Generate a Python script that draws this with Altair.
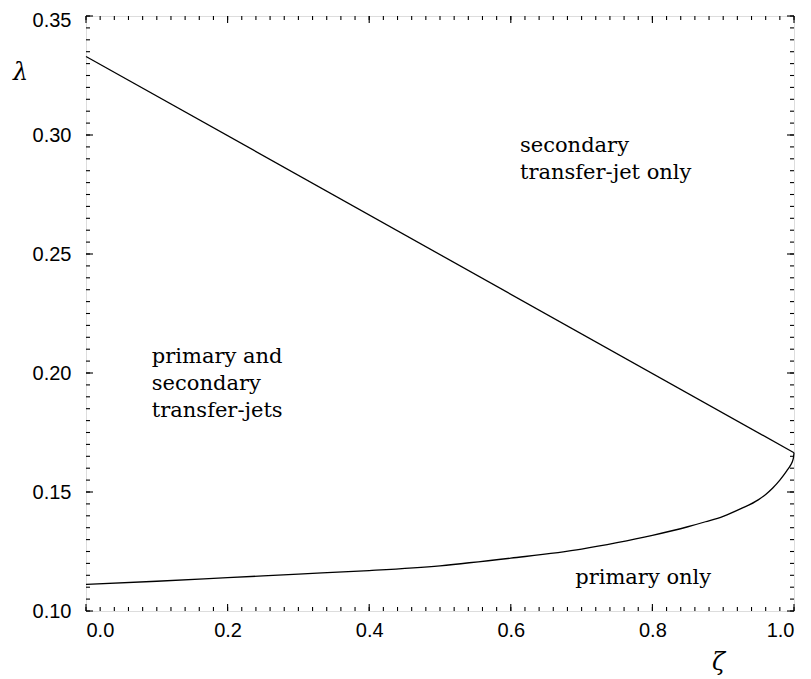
import altair as alt
import pandas as pd

# ---- data ----
upper_zeta = [0.0, 1.0]
upper_lam = [0.333, 0.1665]

lower_zeta = [0.0, 0.1, 0.2, 0.3, 0.4, 0.5, 0.6, 0.7, 0.75, 0.8, 0.85, 0.875, 0.9, 0.925, 0.95, 0.96, 0.97, 0.98, 0.99, 0.995, 0.999, 1.0]
lower_lam = [0.1112, 0.1125, 0.1140, 0.1155, 0.1170, 0.1190, 0.1222, 0.1260, 0.1287, 0.1318, 0.1354, 0.1375, 0.1398, 0.1430, 0.1468, 0.1490, 0.1517, 0.1550, 0.1590, 0.1612, 0.1640, 0.1665]

label_text = ["secondary", "transfer-jet only", "primary and", "secondary", "transfer-jets", "primary only"]
label_zeta = [0.613, 0.613, 0.093, 0.093, 0.093, 0.691]
label_lam = [0.2953, 0.2841, 0.2068, 0.1952, 0.1839, 0.1138]

x_major = [0.0, 0.2, 0.4, 0.6, 0.8, 1.0]
x_minor = [round(i * 0.02, 2) for i in range(51)]
y_major = [0.10, 0.15, 0.20, 0.25, 0.30, 0.35]
y_minor = [round(0.10 + i * 0.005, 3) for i in range(51)]

W, H = 708, 595

curves = pd.DataFrame({
    "zeta": upper_zeta + lower_zeta,
    "lam": upper_lam + lower_lam,
    "curve": ["upper"] * len(upper_zeta) + ["lower"] * len(lower_zeta),
    "order": list(range(len(upper_zeta))) + list(range(len(lower_zeta))),
})
labels = pd.DataFrame({"text": label_text, "zeta": label_zeta, "lam": label_lam})

xs = alt.Scale(domain=[0, 1], nice=False, zero=False)
ys = alt.Scale(domain=[0.10, 0.35], nice=False, zero=False)

x_axis = alt.Axis(values=x_major, format=".1f", grid=False, ticks=False, domain=False,
                  labelFont="Liberation Sans", labelFontSize=20, labelPadding=9,
                  labelColor="black", title="ζ", titleFont="DejaVu Serif", titleFontStyle="italic",
                  titleFontWeight="normal", titleFontSize=24, titleColor="black",
                  titleX=632, titleY=51, titleBaseline="middle", titleAlign="center")
y_axis = alt.Axis(values=y_major, format=".2f", grid=False, ticks=False, domain=False,
                  labelFont="Liberation Sans", labelFontSize=20, labelPadding=15,
                  labelOffset={"expr": "datum.value > 0.349 ? 4 : 0"},
                  labelColor="black", title="λ", titleFont="DejaVu Serif", titleFontStyle="italic",
                  titleFontWeight="normal", titleFontSize=24, titleColor="black",
                  titleAngle=0, titleX=-66, titleY=56, titleBaseline="middle", titleAlign="center")

lines = alt.Chart(curves).mark_line(color="black", strokeWidth=1.3, interpolate="monotone").encode(
    x=alt.X("zeta:Q", scale=xs, axis=x_axis),
    y=alt.Y("lam:Q", scale=ys, axis=y_axis),
    detail="curve:N",
    order="order:Q",
)

texts = alt.Chart(labels).mark_text(font="DejaVu Serif", fontSize=21, align="left",
                                    baseline="middle", color="black").encode(
    x=alt.X("zeta:Q", scale=xs),
    y=alt.Y("lam:Q", scale=ys),
    text="text:N",
)

def xticks(vals, L):
    df = pd.DataFrame({"t": vals})
    base = alt.Chart(df).mark_rule(color="black", strokeWidth=1.1)
    bottom = base.encode(x=alt.X("t:Q", scale=xs), y=alt.value(H), y2=alt.value(H - L))
    top = base.encode(x=alt.X("t:Q", scale=xs), y=alt.value(0), y2=alt.value(L))
    return [bottom, top]

def yticks(vals, L):
    df = pd.DataFrame({"t": vals})
    base = alt.Chart(df).mark_rule(color="black", strokeWidth=1.1)
    left = base.encode(y=alt.Y("t:Q", scale=ys), x=alt.value(0), x2=alt.value(L))
    right = base.encode(y=alt.Y("t:Q", scale=ys), x=alt.value(W), x2=alt.value(W - L))
    return [left, right]

layers = [lines, texts] + xticks(x_minor, 4) + xticks(x_major, 7) + yticks(y_minor, 4) + yticks(y_major, 7)

chart = alt.layer(*layers).properties(
    width=W, height=H,
    autosize=alt.AutoSizeParams(type="none"),
    padding={"left": 78, "top": 8, "right": 9, "bottom": 66},
).configure_view(stroke="black", strokeWidth=1.3).configure(background="white")

chart.save("out.html", embed_options={"renderer": "svg", "actions": False})
